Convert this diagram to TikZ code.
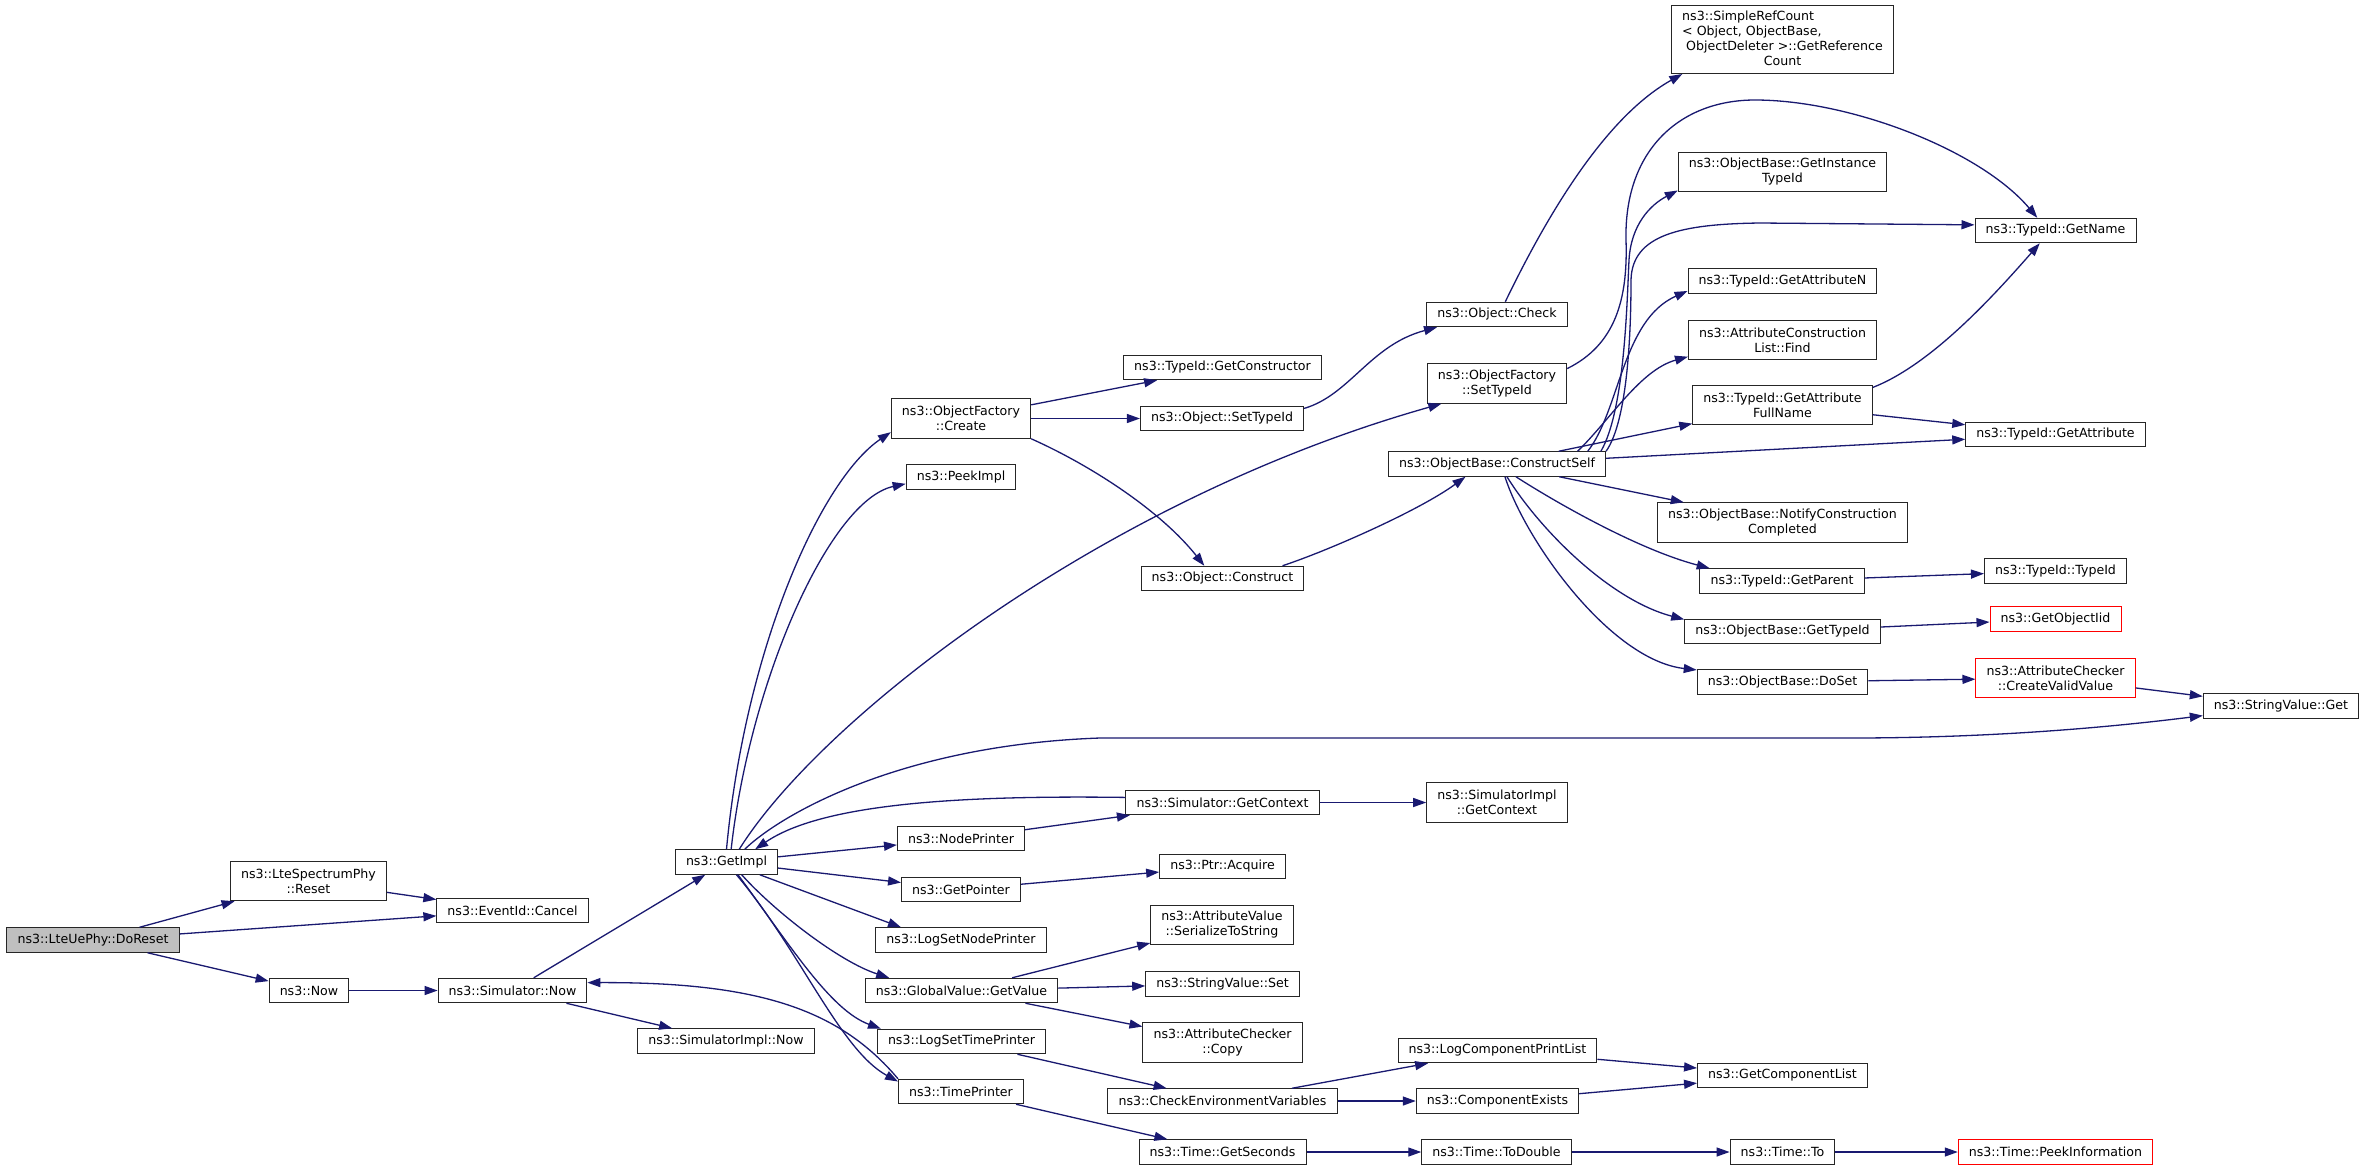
\documentclass[tikz,border=0pt]{standalone}
\usepackage{fontspec}
\usetikzlibrary{arrows.meta}
\newfontfamily\graphfont{DejaVu Sans}
\definecolor{calledge}{HTML}{191970}

\begin{document}
\begin{tikzpicture}[x=1pt,y=-1pt,
    fn/.style={draw=black!85,line width=1pt,fill=white,inner xsep=10.6pt,inner ysep=0pt,
      minimum height=24.5pt,align=center,font={\graphfont\fontsize{12.6}{15}\selectfont}},
    fn2/.style={fn,minimum height=39.5pt},
    miss/.style={draw=red},
    call/.style={draw=calledge,line width=1.3pt,-{Triangle[length=13pt,width=9pt]}}]
    \fill[white] (0,0) rectangle (2365,1171);
    \useasboundingbox (0,0) rectangle (2365,1171);

    % caller and first calls
    \node[fn,fill=black!25] (doreset) at (93,940)   {ns3::LteUePhy::DoReset};
    \node[fn2] (ltereset)   at (308.5,881)  {ns3::LteSpectrumPhy\\::Reset};
    \node[fn]  (cancel)     at (512.5,910.5) {ns3::EventId::Cancel};
    \node[fn]  (now)        at (309,990.5)  {ns3::Now};
    \node[fn]  (simnow)     at (512.5,990.5) {ns3::Simulator::Now};
    \node[fn]  (simimplnow) at (726,1041)   {ns3::SimulatorImpl::Now};
    \node[fn]  (getimpl)    at (726.5,862)  {ns3::GetImpl};

    % column 5
    \node[fn2] (ofcreate)      at (961,418.5)   {ns3::ObjectFactory\\::Create};
    \node[fn]  (peekimpl)      at (961,477)     {ns3::PeekImpl};
    \node[fn]  (nodeprinter)   at (961,838.5)   {ns3::NodePrinter};
    \node[fn]  (getpointer)    at (961,889.5)   {ns3::GetPointer};
    \node[fn]  (lsnodeprinter) at (961,940)     {ns3::LogSetNodePrinter};
    \node[fn]  (gvgetvalue)    at (961.5,990.5) {ns3::GlobalValue::GetValue};
    \node[fn]  (lstimeprinter) at (961.5,1041.5) {ns3::LogSetTimePrinter};
    \node[fn]  (timeprinter)   at (961,1091.5)  {ns3::TimePrinter};

    % column 6
    \node[fn]  (getctor)      at (1222.5,367.5)  {ns3::TypeId::GetConstructor};
    \node[fn]  (objsettid)    at (1222,418.5)    {ns3::Object::SetTypeId};
    \node[fn]  (objconstruct) at (1222.5,578.5)  {ns3::Object::Construct};
    \node[fn]  (simgetctx)    at (1222.5,802.5)  {ns3::Simulator::GetContext};
    \node[fn]  (ptracquire)   at (1222.5,866.5)  {ns3::Ptr::Acquire};
    \node[fn2] (serialize)    at (1222,925)      {ns3::AttributeValue\\::SerializeToString};
    \node[fn]  (svset)        at (1222.5,984)    {ns3::StringValue::Set};
    \node[fn2] (accopy)       at (1222.5,1042.5) {ns3::AttributeChecker\\::Copy};
    \node[fn]  (checkenv)     at (1222.5,1101)   {ns3::CheckEnvironmentVariables};
    \node[fn]  (getseconds)   at (1222.5,1152)   {ns3::Time::GetSeconds};

    % column 7
    \node[fn]  (objcheck)   at (1497,314.5)  {ns3::Object::Check};
    \node[fn2] (ofsettid)   at (1497,383.5)  {ns3::ObjectFactory\\::SetTypeId};
    \node[fn]  (cself)      at (1497,464)    {ns3::ObjectBase::ConstructSelf};
    \node[fn2] (simimplctx) at (1497,802.5)  {ns3::SimulatorImpl\\::GetContext};
    \node[fn]  (lcplist)    at (1497.5,1050.5) {ns3::LogComponentPrintList};
    \node[fn]  (compexists) at (1497.5,1101) {ns3::ComponentExists};
    \node[fn]  (todouble)   at (1496.5,1152) {ns3::Time::ToDouble};

    % column 8
    \node[fn,minimum height=68pt] (refcount) at (1782.5,39.5)
      {\begin{tabular}{@{}l@{}}ns3::SimpleRefCount\\< Object, ObjectBase,\\\hspace*{4pt}ObjectDeleter >::GetReference\\\multicolumn{1}{@{}c@{}}{Count}\end{tabular}};
    \node[fn2] (getinsttid)  at (1782.5,172)   {ns3::ObjectBase::GetInstance\\TypeId};
    \node[fn]  (getattrn)    at (1782.5,281)   {ns3::TypeId::GetAttributeN};
    \node[fn2] (aclfind)     at (1782.5,340)   {ns3::AttributeConstruction\\List::Find};
    \node[fn2] (getattrfull) at (1782.5,405)   {ns3::TypeId::GetAttribute\\FullName};
    \node[fn2] (notifycc)    at (1782.5,522.5) {ns3::ObjectBase::NotifyConstruction\\Completed};
    \node[fn]  (getparent)   at (1782,581)     {ns3::TypeId::GetParent};
    \node[fn]  (obgettid)    at (1782.5,631.5) {ns3::ObjectBase::GetTypeId};
    \node[fn]  (doset)       at (1782.5,682)   {ns3::ObjectBase::DoSet};
    \node[fn]  (getcomplist) at (1782.5,1075.5) {ns3::GetComponentList};
    \node[fn]  (timeto)      at (1782.5,1152)  {ns3::Time::To};

    % columns 9 and 10
    \node[fn]       (getname)     at (2055.5,230.5) {ns3::TypeId::GetName};
    \node[fn]       (getattr)     at (2055.5,434.5) {ns3::TypeId::GetAttribute};
    \node[fn]       (tidtid)      at (2055.5,571)   {ns3::TypeId::TypeId};
    \node[fn,miss]  (getobjiid)   at (2055.5,619)   {ns3::GetObjectIid};
    \node[fn2,miss] (createvalid) at (2055.5,678)   {ns3::AttributeChecker\\::CreateValidValue};
    \node[fn,miss]  (peekinfo)    at (2055.5,1152)  {ns3::Time::PeekInformation};
    \node[fn]       (svget)       at (2281,706)     {ns3::StringValue::Get};

    % calls from the left part
    \draw[call] (doreset) -- (ltereset);
    \draw[call] (doreset) -- (cancel);
    \draw[call] (doreset) -- (now);
    \draw[call] (ltereset) -- (cancel);
    \draw[call] (now) -- (simnow);
    \draw[call] (simnow) -- (getimpl);
    \draw[call] (simnow) -- (simimplnow);

    % calls of GetImpl
    \draw[call] (getimpl.north) .. controls (745,650) and (820,480) .. (ofcreate.191);
    \draw[call] (getimpl.70) .. controls (750,680) and (830,500) .. (peekimpl.187);
    \draw[call] (getimpl.45) .. controls (820,720) and (1100,500) .. (ofsettid.200);
    \draw[call] (getimpl.35) .. controls (780,815) and (900,745) .. (1100,738)
      -- (1850,738) .. controls (2000,738) and (2120,726) .. (svget.187);
    \draw[call] (simgetctx.177) .. controls (950,795) and (820,805) .. (getimpl.24);
    \draw[call] (getimpl) -- (nodeprinter);
    \draw[call] (getimpl) -- (getpointer);
    \draw[call] (getimpl.-21) -- (lsnodeprinter.168);
    \draw[call] (getimpl.-40) .. controls (775,912) and (840,962) .. (gvgetvalue.170);
    \draw[call] (getimpl.-48) .. controls (790,945) and (830,1010) .. (lstimeprinter.171);
    \draw[call] (getimpl.-52) .. controls (800,950) and (840,1050) .. (timeprinter.171);
    \draw[call] (timeprinter.north west) .. controls (840,1010) and (760,982) .. (simnow.6);

    % object factory
    \draw[call] (ofcreate) -- (getctor);
    \draw[call] (ofcreate) -- (objsettid);
    \draw[call] (ofcreate.south east) .. controls (1090,465) and (1160,510) .. (objconstruct.145);
    \draw[call] (objsettid.7) .. controls (1350,395) and (1370,345) .. (objcheck.192);
    \draw[call] (objconstruct.12) .. controls (1330,550) and (1420,510) .. (cself.202);
    \draw[call] (objcheck.57) .. controls (1540,230) and (1600,120) .. (refcount.199);
    \draw[call] (ofsettid.12) .. controls (1615,345) and (1628,300) .. (1626,240)
      .. controls (1624,150) and (1680,100) .. (1755,100)
      .. controls (1850,100) and (1980,150) .. (getname.145);

    % ConstructSelf
    \draw[call] (cself.north east) .. controls (1628,420) and (1631,330) .. (1631,280)
      .. controls (1632,235) and (1680,224) .. (1760,223) -- (getname.176);
    \draw[call] (cself.7) .. controls (1625,410) and (1627,300) .. (1629,260)
      .. controls (1631,225) and (1650,205) .. (getinsttid.190);
    \draw[call] (cself.8) .. controls (1620,410) and (1622,320) .. (getattrn.186);
    \draw[call] (cself.9) .. controls (1610,420) and (1640,370) .. (aclfind.190);
    \draw[call] (cself) -- (getattrfull);
    \draw[call] (cself) -- (getattr);
    \draw[call] (cself) -- (notifycc);
    \draw[call] (cself.-34) .. controls (1560,505) and (1640,550) .. (getparent.170);
    \draw[call] (cself.-52) .. controls (1540,530) and (1610,600) .. (obgettid.173);
    \draw[call] (cself.-58) .. controls (1525,540) and (1610,660) .. (doset.172);
    \draw[call] (getattrfull.11) .. controls (1930,365) and (1990,300) .. (getname.219);
    \draw[call] (getattrfull) -- (getattr);
    \draw[call] (getparent) -- (tidtid);
    \draw[call] (obgettid) -- (getobjiid);
    \draw[call] (doset) -- (createvalid);
    \draw[call] (createvalid) -- (svget);

    % lower part
    \draw[call] (simgetctx) -- (simimplctx);
    \draw[call] (nodeprinter) -- (simgetctx);
    \draw[call] (getpointer) -- (ptracquire);
    \draw[call] (gvgetvalue) -- (serialize);
    \draw[call] (gvgetvalue) -- (svset);
    \draw[call] (gvgetvalue) -- (accopy);
    \draw[call] (lstimeprinter) -- (checkenv);
    \draw[call] (timeprinter) -- (getseconds);
    \draw[call] (checkenv) -- (lcplist);
    \draw[call] (checkenv) -- (compexists);
    \draw[call] (lcplist) -- (getcomplist);
    \draw[call] (compexists) -- (getcomplist);
    \draw[call] (getseconds) -- (todouble);
    \draw[call] (todouble) -- (timeto);
    \draw[call] (timeto) -- (peekinfo);
\end{tikzpicture}
\end{document}
